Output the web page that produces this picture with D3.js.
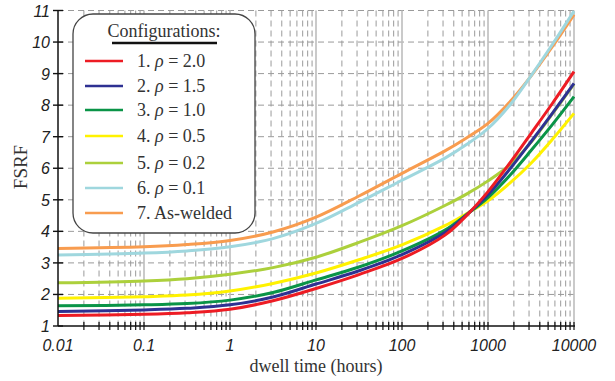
<!DOCTYPE html>
<html>
<head>
<meta charset="utf-8">
<script src="https://cdn.jsdelivr.net/npm/d3@7"></script>
<style>
  html, body { margin: 0; padding: 0; background: #fff; }
  svg { display: block; }
</style>
</head>
<body>
<svg id="chart" width="615" height="381"></svg>
<script>
// ---- data ----
const times = [0.01, 0.1, 0.316, 1, 3.16, 10, 31.6, 100, 316, 562, 1000, 1778, 3162, 5623, 10000];
const seriesNames = ["1. ρ = 2.0", "2. ρ = 1.5", "3. ρ = 1.0", "4. ρ = 0.5", "5. ρ = 0.2", "6. ρ = 0.1", "7. As-welded"];
const rho20    = [1.33, 1.37, 1.42, 1.53, 1.80, 2.19, 2.63, 3.14, 3.88, 4.50, 5.26, 6.15, 7.10, 8.06, 9.06];
const rho15    = [1.46, 1.51, 1.56, 1.67, 1.92, 2.33, 2.75, 3.26, 3.96, 4.52, 5.16, 5.96, 6.84, 7.75, 8.69];
const rho10    = [1.64, 1.67, 1.71, 1.82, 2.06, 2.46, 2.87, 3.38, 4.04, 4.53, 5.07, 5.76, 6.56, 7.39, 8.27];
const rho05    = [1.88, 1.93, 1.98, 2.11, 2.35, 2.68, 3.10, 3.57, 4.18, 4.56, 4.97, 5.52, 6.16, 6.92, 7.74];
const rho02    = [2.37, 2.43, 2.50, 2.64, 2.85, 3.18, 3.65, 4.18, 4.82, 5.18, 5.60, 6.10, 6.82, 7.73, 8.67];
const rho01    = [3.25, 3.31, 3.38, 3.51, 3.77, 4.25, 4.92, 5.62, 6.32, 6.75, 7.26, 7.99, 8.93, 9.93, 10.98];
const asWelded = [3.46, 3.51, 3.58, 3.71, 3.98, 4.45, 5.12, 5.84, 6.55, 6.96, 7.42, 8.09, 8.92, 9.86, 10.87];
const colors = ["#ed1c24", "#2e3192", "#0a9447", "#fff200", "#acd03c", "#9fd7de", "#f89c4f"];
const xTickValues = [0.01, 0.1, 1, 10, 100, 1000, 10000];
const xTickLabels = ["0.01", "0.1", "1", "10", "100", "1000", "10000"];
const yTickValues = [1, 2, 3, 4, 5, 6, 7, 8, 9, 10, 11];

const allSeries = [rho20, rho15, rho10, rho05, rho02, rho01, asWelded];

// ---- layout ----
const svg = d3.select("#chart");
const L = 58, R = 574, T = 10.5, B = 326;

const x = d3.scaleLog().domain([0.01, 10000]).range([L, R]);
const y = d3.scaleLinear().domain([1, 11]).range([B, T]);

// minor tick values
const minorVals = [];
for (let e = -2; e < 4; e++) {
  for (let k = 2; k <= 9; k++) minorVals.push(k * Math.pow(10, e));
}

// ---- grid ----
const grid = svg.append("g");
grid.selectAll("line.vminor").data(minorVals).enter().append("line")
  .attr("x1", d => x(d)).attr("x2", d => x(d))
  .attr("y1", T).attr("y2", B)
  .attr("stroke", "#9a9a9a").attr("stroke-width", 1)
  .attr("stroke-dasharray", "6,4");
grid.selectAll("line.h").data(yTickValues.slice(1)).enter().append("line")
  .attr("x1", L).attr("x2", R)
  .attr("y1", d => y(d)).attr("y2", d => y(d))
  .attr("stroke", "#9a9a9a").attr("stroke-width", 1)
  .attr("stroke-dasharray", "6,4");
grid.selectAll("line.vmajor").data(xTickValues.slice(1)).enter().append("line")
  .attr("x1", d => x(d)).attr("x2", d => x(d))
  .attr("y1", T).attr("y2", B)
  .attr("stroke", "#bdbdbd").attr("stroke-width", 1.6);

// ---- curves ----
const line = d3.line()
  .x(d => x(d[0]))
  .y(d => y(d[1]))
  .curve(d3.curveCatmullRom.alpha(0.5));

const order = [6, 5, 4, 3, 2, 1, 0];
svg.append("g").selectAll("path").data(order).enter().append("path")
  .attr("d", i => line(times.map((t, j) => [t, allSeries[i][j]])))
  .attr("fill", "none")
  .attr("stroke", i => colors[i])
  .attr("stroke-width", 3)
  .attr("stroke-linecap", "butt");

// ---- axes ----
const ax = svg.append("g");
ax.append("line").attr("x1", L).attr("x2", R + 1).attr("y1", B).attr("y2", B)
  .attr("stroke", "#111").attr("stroke-width", 1.5);
ax.append("line").attr("x1", L).attr("x2", L).attr("y1", T).attr("y2", B)
  .attr("stroke", "#111").attr("stroke-width", 1.5);

const xTickAll = minorVals.concat(xTickValues.slice(1));
ax.selectAll("line.xt").data(xTickAll).enter().append("line")
  .attr("x1", d => x(d)).attr("x2", d => x(d))
  .attr("y1", B - 4).attr("y2", B + 4)
  .attr("stroke", "#111").attr("stroke-width", 1.2);
ax.selectAll("line.yt").data(yTickValues).enter().append("line")
  .attr("x1", L - 5).attr("x2", L + 5)
  .attr("y1", d => y(d)).attr("y2", d => y(d))
  .attr("stroke", "#111").attr("stroke-width", 1.4);

const tickFont = "'Liberation Sans', Arial, sans-serif";
ax.selectAll("text.xl").data(xTickValues).enter().append("text")
  .attr("x", d => x(d)).attr("y", 351)
  .attr("text-anchor", "middle")
  .attr("font-family", tickFont).attr("font-style", "italic")
  .attr("font-size", 16).attr("fill", "#222")
  .text((d, i) => xTickLabels[i]);
ax.selectAll("text.yl").data(yTickValues).enter().append("text")
  .attr("x", 50).attr("y", d => y(d) + 6)
  .attr("text-anchor", "end")
  .attr("font-family", tickFont).attr("font-style", "italic")
  .attr("font-size", 16).attr("fill", "#222")
  .text(d => d);

const serif = "'Liberation Serif', 'Times New Roman', serif";
svg.append("text")
  .attr("x", (L + R) / 2).attr("y", 372)
  .attr("text-anchor", "middle")
  .attr("font-family", serif).attr("font-size", 18).attr("fill", "#333")
  .text("dwell time (hours)");
svg.append("text")
  .attr("transform", "translate(27,167) rotate(-90)")
  .attr("text-anchor", "middle")
  .attr("font-family", serif).attr("font-size", 19).attr("fill", "#333")
  .text("FSRF");

// ---- legend ----
const lg = svg.append("g");
lg.append("rect")
  .attr("x", 73).attr("y", 14).attr("width", 182).attr("height", 219)
  .attr("rx", 20).attr("ry", 20)
  .attr("fill", "#fff").attr("stroke", "#444").attr("stroke-width", 1.3);
lg.append("text")
  .attr("x", 164).attr("y", 37)
  .attr("text-anchor", "middle")
  .attr("font-family", serif).attr("font-size", 18).attr("fill", "#333")
  .text("Configurations:");
lg.append("line").attr("x1", 112).attr("x2", 217).attr("y1", 43).attr("y2", 43)
  .attr("stroke", "#111").attr("stroke-width", 2.5);

const rowY = [61, 86, 110, 136, 163, 188, 213];
const rows = lg.selectAll("g.row").data(seriesNames).enter().append("g");
rows.append("line")
  .attr("x1", 85).attr("x2", 123)
  .attr("y1", (d, i) => rowY[i]).attr("y2", (d, i) => rowY[i])
  .attr("stroke", (d, i) => colors[i]).attr("stroke-width", 2.5);
rows.append("text")
  .attr("x", 137).attr("y", (d, i) => rowY[i] + 6)
  .attr("font-family", serif).attr("font-size", 18).attr("fill", "#333")
  .each(function(d) {
    const t = d3.select(this);
    const m = d.match(/^(.*?)(ρ)(.*)$/);
    if (m) {
      t.append("tspan").text(m[1]);
      t.append("tspan").attr("font-style", "italic").text(m[2]);
      t.append("tspan").text(m[3]);
    } else {
      t.text(d);
    }
  });
</script>
</body>
</html>
